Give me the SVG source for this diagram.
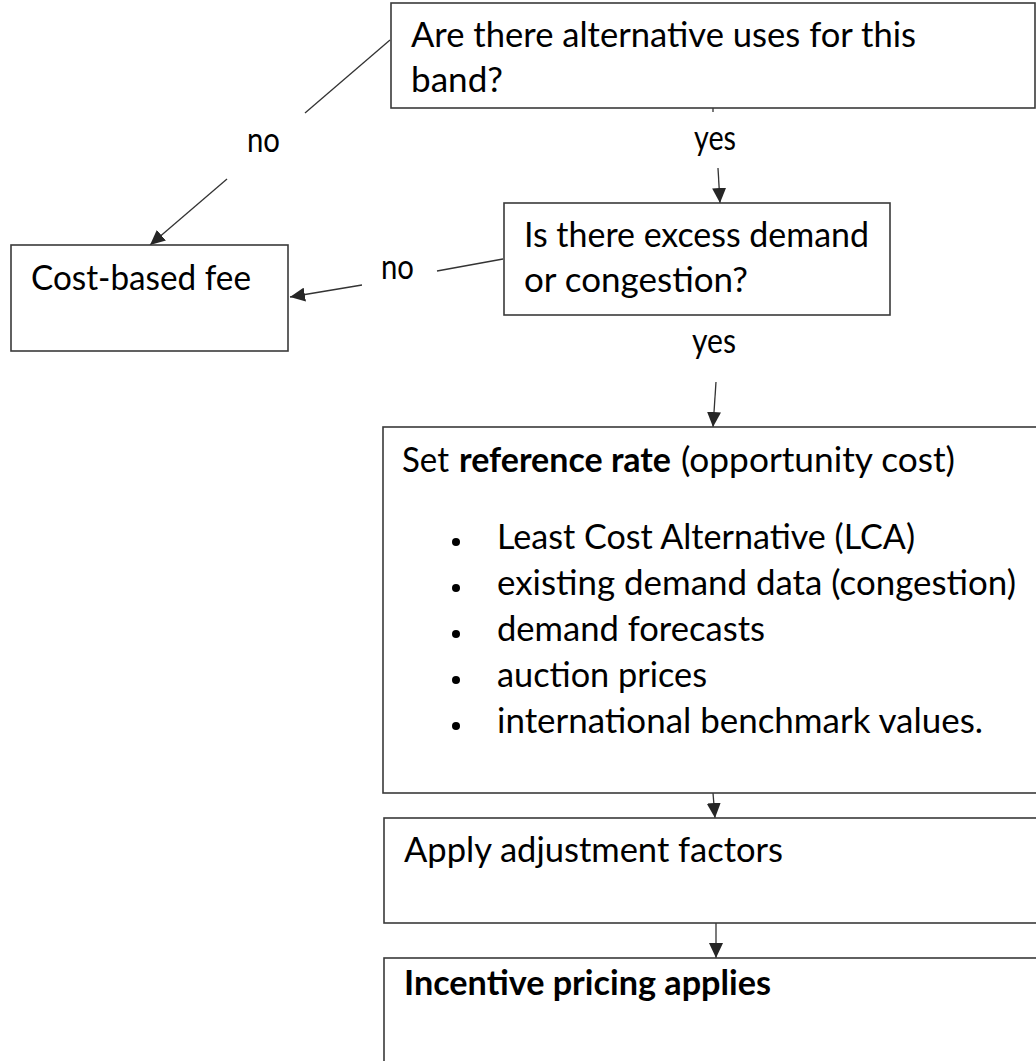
<svg xmlns="http://www.w3.org/2000/svg" width="1036" height="1061" viewBox="0 0 1036 1061">
<style>
.box{fill:#fff;stroke:#3a3a3a;stroke-width:1.6}
.t{font-family:Lato,"Open Sans","Liberation Sans",sans-serif;font-size:34px;fill:#000}
.b{font-weight:bold}
.ln{fill:none;stroke:#333;stroke-width:1.3}
.ar{marker-end:url(#ah)}
</style>
<defs>
<marker id="ah" markerUnits="userSpaceOnUse" markerWidth="16" markerHeight="14" refX="15" refY="7" orient="auto">
<path d="M0,0 L15,7 L0,14 Z" fill="#262626"/>
</marker>
</defs>
<rect width="1036" height="1061" fill="#fff"/>
<g id="connectors">
<line class="ln" x1="390" y1="40" x2="305" y2="113"/>
<line class="ln ar" x1="227" y1="179" x2="150" y2="245"/>
<text class="t" x="247" y="152" textLength="33" lengthAdjust="spacingAndGlyphs">no</text>
<line class="ln" x1="713" y1="108" x2="713" y2="112"/>
<text class="t" x="694" y="150" textLength="42" lengthAdjust="spacingAndGlyphs">yes</text>
<line class="ln ar" x1="718" y1="168" x2="720" y2="203"/>
<line class="ln" x1="503" y1="259" x2="437" y2="271"/>
<text class="t" x="381" y="279" textLength="33" lengthAdjust="spacingAndGlyphs">no</text>
<line class="ln ar" x1="362" y1="285" x2="290" y2="297"/>
<text class="t" x="692" y="353" textLength="44" lengthAdjust="spacingAndGlyphs">yes</text>
<line class="ln ar" x1="716" y1="382" x2="713" y2="427"/>
<line class="ln ar" x1="713" y1="793" x2="715" y2="818"/>
<line class="ln ar" x1="716" y1="890" x2="716" y2="958"/>
</g>
<g id="q1">
<rect class="box" x="391" y="3" width="644" height="105"/>
<text class="t" x="411" y="47" textLength="505" lengthAdjust="spacingAndGlyphs">Are there alternative uses for this</text>
<text class="t" x="411" y="92" textLength="92" lengthAdjust="spacingAndGlyphs">band?</text>
</g>
<g id="costfee">
<rect class="box" x="11" y="245" width="277" height="106"/>
<text class="t" x="31" y="290" textLength="220" lengthAdjust="spacingAndGlyphs">Cost-based fee</text>
</g>
<g id="q2">
<rect class="box" x="504" y="203" width="386" height="112"/>
<text class="t" x="524" y="247" textLength="345" lengthAdjust="spacingAndGlyphs">Is there excess demand</text>
<text class="t" x="524" y="292" textLength="224" lengthAdjust="spacingAndGlyphs">or congestion?</text>
</g>
<g id="refrate">
<rect class="box" x="383" y="427" width="660" height="366"/>
<text class="t" x="402" y="472" textLength="47" lengthAdjust="spacingAndGlyphs">Set</text>
<text class="t b" x="459" y="472" textLength="212" lengthAdjust="spacingAndGlyphs">reference rate</text>
<text class="t" x="681" y="472" textLength="274" lengthAdjust="spacingAndGlyphs">(opportunity cost)</text>
<g fill="#000">
<circle cx="456" cy="542" r="4"/>
<circle cx="456" cy="588" r="4"/>
<circle cx="456" cy="634" r="4"/>
<circle cx="456" cy="680" r="4"/>
<circle cx="456" cy="726" r="4"/>
</g>
<text class="t" x="497" y="549" textLength="418" lengthAdjust="spacingAndGlyphs">Least Cost Alternative (LCA)</text>
<text class="t" x="497" y="595" textLength="519" lengthAdjust="spacingAndGlyphs">existing demand data (congestion)</text>
<text class="t" x="497" y="641" textLength="268" lengthAdjust="spacingAndGlyphs">demand forecasts</text>
<text class="t" x="497" y="687" textLength="210" lengthAdjust="spacingAndGlyphs">auction prices</text>
<text class="t" x="497" y="733" textLength="486" lengthAdjust="spacingAndGlyphs">international benchmark values.</text>
</g>
<g id="adjust">
<rect class="box" x="384" y="818" width="660" height="105"/>
<text class="t" x="404" y="862" textLength="379" lengthAdjust="spacingAndGlyphs">Apply adjustment factors</text>
</g>
<g id="incentive">
<rect class="box" x="384" y="958" width="660" height="120"/>
<text class="t b" x="404" y="995" textLength="367" lengthAdjust="spacingAndGlyphs">Incentive pricing applies</text>
</g>
</svg>
